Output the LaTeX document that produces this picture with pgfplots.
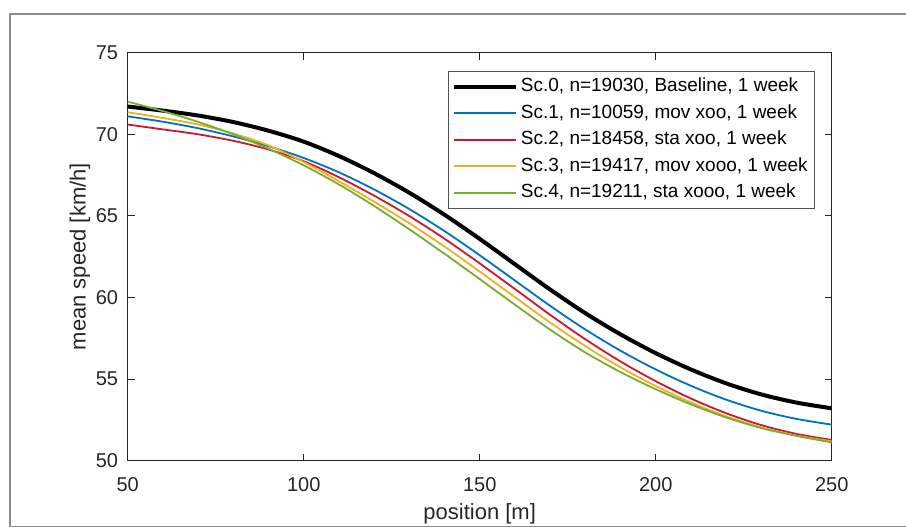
\documentclass[border=0pt]{standalone}
\usepackage{fontspec}
\setmainfont{Liberation Sans}
\usepackage{pgfplots}
\pgfplotsset{compat=1.18}
\definecolor{mblue}{rgb}{0,0.447,0.741}
\definecolor{mred}{RGB}{210,20,45}
\definecolor{morange}{rgb}{0.929,0.694,0.125}
\definecolor{mgreen}{rgb}{0.466,0.674,0.188}
\definecolor{axgray}{rgb}{0.15,0.15,0.15}
\begin{document}
\begin{tikzpicture}[x=1pt,y=1pt]
\path[use as bounding box] (0,0) rectangle (906,527);
\draw[gray!90, line width=1.5pt] (910,513) -- (10,513) -- (10,0.6) -- (910,0.6);
\begin{axis}[
  at={(127.7pt,66.3pt)}, anchor=south west,
  scale only axis, width=704pt, height=408pt,
  xmin=50, xmax=250, ymin=50, ymax=75,
  xtick={50,100,150,200,250}, ytick={50,55,60,65,70,75},
  tick align=inside, major tick length=7pt,
  axis line style={axgray, line width=1.3pt},
  every tick/.style={axgray, line width=1.1pt},
  /pgf/number format/assume math mode=true,
  tick label style={font=\fontsize{20}{24}\selectfont, text=axgray},
  xticklabel style={inner sep=0pt, anchor=north, yshift=-17pt},
  yticklabel style={inner sep=0pt, anchor=east, xshift=-9.4pt},
  label style={font=\fontsize{22}{26}\selectfont, text=axgray},
  xlabel={position [m]},
  ylabel={mean speed [km/h]},
  xlabel style={at={(axis description cs:0.5,-0.1306)}, anchor=center},
  ylabel style={at={(axis description cs:-0.0678,0.5)}, anchor=center},
  legend cell align=left,
  legend style={at={(axis description cs:0.9753,0.9559)}, anchor=north east,
    draw=axgray!80, fill=white,
    font=\fontsize{19}{22}\selectfont, text=black,
    inner xsep=3.9pt, inner ysep=2.5pt, row sep=0pt,
    nodes={inner xsep=2.5pt, inner ysep=3.25pt, text height=15pt, text depth=5pt}},
]
\addplot[black, line width=4pt, smooth,
  legend image code/.code={\draw[black, line width=4pt] (0pt,0pt) -- (62pt,0pt);}] coordinates {
(50,71.7) (60,71.45) (70,71.15) (80,70.75) (90,70.22) (100,69.55) (110,68.67) (120,67.62) (130,66.42) (140,65.07) (150,63.59) (160,62.04) (170,60.49) (180,59.04) (190,57.74) (200,56.59) (210,55.59) (220,54.74) (230,54.06) (240,53.56) (250,53.21)};
\addlegendentry{Sc.0, n=19030, Baseline, 1 week}
\addplot[mblue, line width=1.8pt, smooth,
  legend image code/.code={\draw[mblue, line width=1.8pt] (0pt,0pt) -- (62pt,0pt);}] coordinates {
(50,71.1) (60,70.77) (70,70.37) (80,69.87) (90,69.27) (100,68.55) (110,67.67) (120,66.62) (130,65.42) (140,64.07) (150,62.59) (160,61.04) (170,59.49) (180,58.04) (190,56.74) (200,55.59) (210,54.59) (220,53.74) (230,53.06) (240,52.56) (250,52.21)};
\addlegendentry{Sc.1, n=10059, mov xoo, 1 week}
\addplot[mred, line width=1.8pt, smooth,
  legend image code/.code={\draw[mred, line width=1.8pt] (0pt,0pt) -- (62pt,0pt);}] coordinates {
(50,70.6) (60,70.3) (70,70.0) (80,69.6) (90,69.07) (100,68.35) (110,67.37) (120,66.24) (130,64.99) (140,63.6) (150,62.09) (160,60.52) (170,58.94) (180,57.44) (190,56.08) (200,54.87) (210,53.81) (220,52.91) (230,52.18) (240,51.64) (250,51.27)};
\addlegendentry{Sc.2, n=18458, sta xoo, 1 week}
\addplot[morange, line width=1.8pt, smooth,
  legend image code/.code={\draw[morange, line width=1.8pt] (0pt,0pt) -- (62pt,0pt);}] coordinates {
(50,71.35) (60,71.0) (70,70.6) (80,70.05) (90,69.32) (100,68.3) (110,67.12) (120,65.87) (130,64.55) (140,63.12) (150,61.59) (160,60.02) (170,58.47) (180,57.02) (190,55.72) (200,54.57) (210,53.57) (220,52.72) (230,52.04) (240,51.54) (250,51.19)};
\addlegendentry{Sc.3, n=19417, mov xooo, 1 week}
\addplot[mgreen, line width=1.8pt, smooth,
  legend image code/.code={\draw[mgreen, line width=1.8pt] (0pt,0pt) -- (62pt,0pt);}] coordinates {
(50,72.0) (60,71.42) (70,70.76) (80,70.0) (90,69.12) (100,68.1) (110,66.93) (120,65.61) (130,64.18) (140,62.68) (150,61.13) (160,59.56) (170,58.03) (180,56.63) (190,55.43) (200,54.38) (210,53.45) (220,52.65) (230,52.0) (240,51.52) (250,51.12)};
\addlegendentry{Sc.4, n=19211, sta xooo, 1 week}
\end{axis}
\end{tikzpicture}
\end{document}
